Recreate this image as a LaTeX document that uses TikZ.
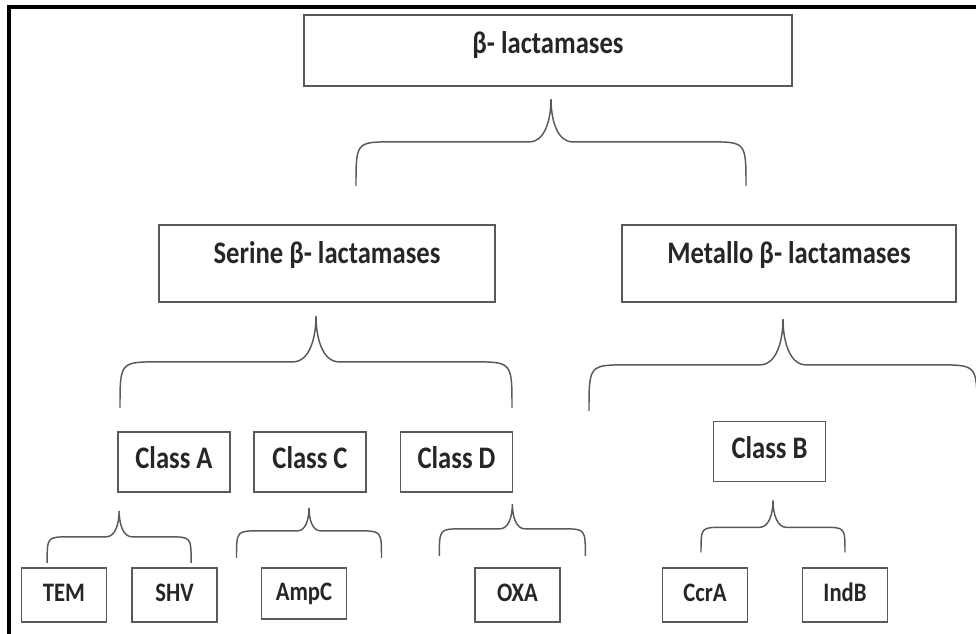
\documentclass[tikz,border=0pt]{standalone}
\usepackage{fontspec}
\setmainfont{Carlito}[FakeStretch=0.85]
\usetikzlibrary{calc}

\tikzset{
  brace line/.style={draw=black!65, line width=1.1pt},
  pics/curly/.style n args={3}{code={
    \draw[brace line] (-#1,#2+#3) .. controls (-#1,#2) .. (-#1+0.85*#3,#2)
      -- (-0.5*#2,#2) .. controls (-0.15*#2,#2) and (0,0.5*#2) .. (0,0)
      .. controls (0,0.5*#2) and (0.15*#2,#2) .. (0.5*#2,#2)
      -- (#1-0.85*#3,#2) .. controls (#1,#2) .. (#1,#2+#3);
  }},
  lact box/.style={draw=black!65, line width=1.3pt, inner sep=0pt,
    text=black!85, font=\bfseries\fontsize{23.5}{27}\selectfont},
  class box/.style={lact box, minimum width=84pt, minimum height=45pt,
    text height=12pt, text depth=1.5pt},
  leaf box/.style={lact box, minimum width=63.75pt, minimum height=40.5pt,
    text height=12pt, text depth=1.5pt, font=\bfseries\fontsize{20}{23}\selectfont}
}

\begin{document}
\begin{tikzpicture}[x=0.75pt, y=-0.75pt]
        \useasboundingbox (0,0) rectangle (976,634);

        % Frame (top and left only)
        \draw[line width=2.3pt] (9,634) -- (9,7) -- (976,7);

        % Top level
        \node[lact box, minimum width=366pt, minimum height=53.25pt,
              text height=12pt, text depth=8.2pt] (top) at (548,50.5) {β- lactamases};

        % Second level
        \node[lact box, minimum width=252pt, minimum height=57.75pt,
              text height=12pt, text depth=12pt] (serine) at (327,263.5) {Serine β- lactamases};
        \node[lact box, minimum width=250.5pt, minimum height=57.75pt,
              text height=12pt, text depth=12pt] (metallo) at (789,263.5) {Metallo β- lactamases};

        % Classes
        \node[class box] (classA) at (174,462) {Class A};
        \node[class box] (classC) at (310,462) {Class C};
        \node[class box] (classD) at (456.5,462) {Class D};
        \node[class box] (classB) at (769.5,451.5) {Class B};

        % Enzymes
        \node[leaf box] (tem) at (64,595) {TEM};
        \node[leaf box] (shv) at (174.5,595) {SHV};
        \node[leaf box, minimum height=38.25pt] (ampc) at (304,593.5) {AmpC};
        \node[leaf box] (oxa) at (517.5,595) {OXA};
        \node[leaf box] (ccra) at (705,595) {CcrA};
        \node[leaf box] (indb) at (845,595) {IndB};

        % Brace tips
        \coordinate (tipTop) at ($(top.south)+(3,12)$);
        \coordinate (tipSer) at ($(serine.south)+(-11,13)$);
        \coordinate (tipMet) at ($(metallo.south)+(-6,16)$);
        \coordinate (tipA) at ($(classA.south west)+(2,18)$);
        \coordinate (tipC) at ($(classC.south)+(-1,15)$);
        \coordinate (tipD) at ($(classD.south east)+(-1,11)$);
        \coordinate (tipB) at ($(classB.south)+(3.5,18)$);

        % Braces
        \pic at (tipTop) {curly={195}{43}{44}};
        \pic at (tipSer) {curly={196}{46}{46}};
        \pic at (tipMet) {curly={194}{46}{46}};
        \pic at (tipA) {curly={72}{26}{26}};
        \pic at (tipC) {curly={72.5}{23}{27}};
        \pic at (tipD) {curly={73}{25}{27}};
        \pic at (tipB) {curly={72}{27}{25}};
    \end{tikzpicture}
\end{document}
